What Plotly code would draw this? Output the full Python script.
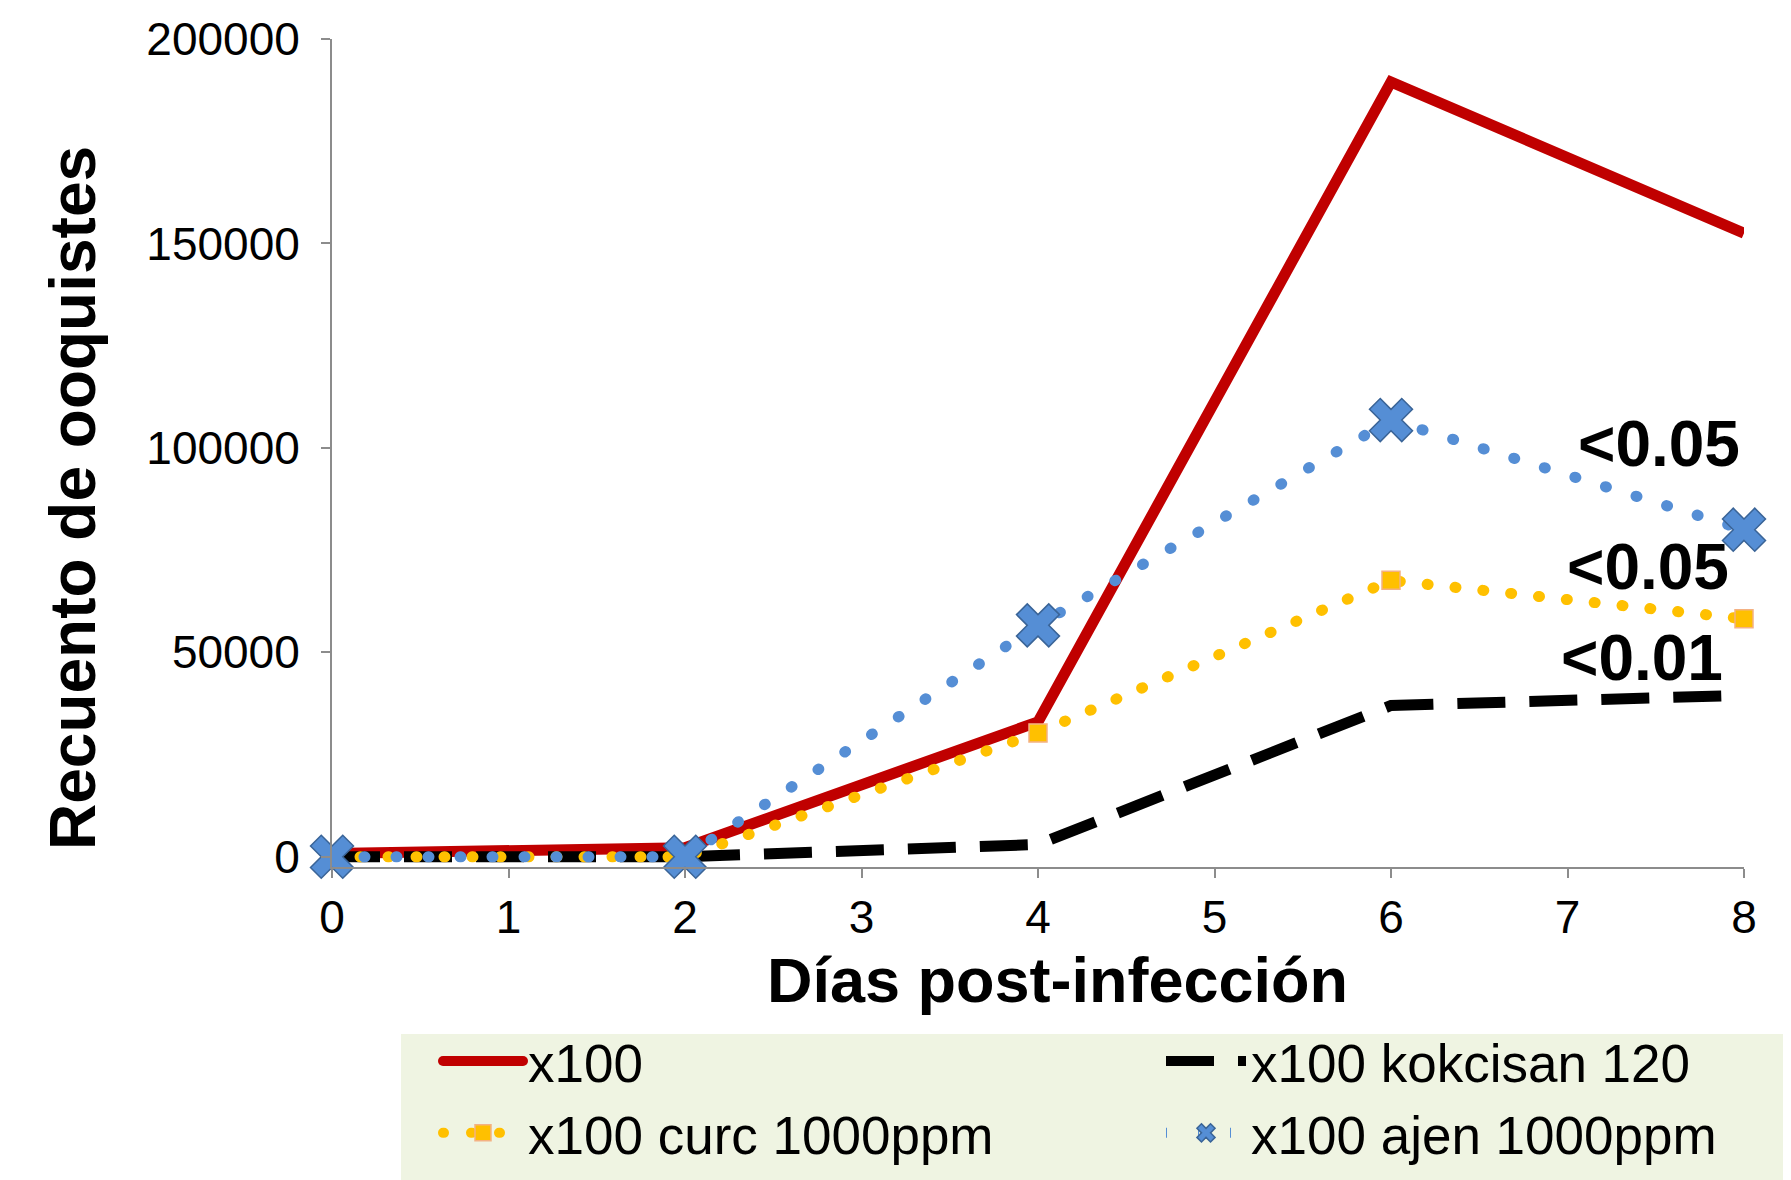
import plotly.graph_objects as go

# ---- data ----
days = [0, 2, 4, 6, 8]
x100 = [800, 2200, 33000, 189500, 152500]
x100_kokcisan = [0, 0, 3000, 37000, 39500]
x100_curc = [0, 0, 30300, 67600, 58200]
x100_ajen = [0, 0, 56600, 106800, 80000]

series_names = ["x100", "x100 kokcisan 120", "x100 curc 1000ppm", "x100 ajen 1000ppm"]
y_tickvals = [0, 50000, 100000, 150000, 200000]
y_ticktext = ["0", "50000", "100000", "150000", "200000"]
x_tickvals = [0, 1, 2, 3, 4, 5, 6, 7, 8]
p_labels = ["<0.05", "<0.05", "<0.01"]
x_title = "Días post-infección"
y_title = "Recuento de ooquistes"

FONT = "Liberation Sans"
W, H = 1791, 1180
L, R, T, B = 324, 55, 31, 321

fig = go.Figure()

fig.add_trace(go.Scatter(
    x=days, y=x100, name=series_names[0], mode="lines",
    line=dict(color="#C00000", width=11), legend="legend"))
fig.add_trace(go.Scatter(
    x=days, y=x100_kokcisan, name=series_names[1], mode="lines",
    line=dict(color="#000000", width=11, dash="48px,24px"), legend="legend2"))
fig.add_trace(go.Scatter(
    x=days, y=x100_curc, name=series_names[2], mode="lines+markers",
    line=dict(color="#FFC000", width=11, dash="1px,27px"),
    marker=dict(symbol="square", size=18, color="#FFC000",
                line=dict(color="#F4B183", width=1.5)),
    cliponaxis=False, legend="legend"))
fig.add_trace(go.Scatter(
    x=days, y=x100_ajen, name=series_names[3], mode="lines+markers",
    line=dict(color="#558ED5", width=11, dash="1px,31px"),
    marker=dict(symbol="x", size=38, color="#558ED5",
                line=dict(color="#3A6497", width=1.5)),
    cliponaxis=False, legend="legend2"))

pw = W - L - R
ph = H - T - B

def px(xp):
    return (xp - L) / pw

def py(yp):
    return (H - B - yp) / ph

# legend background panel
fig.add_shape(type="rect", xref="paper", yref="paper",
              x0=px(393), x1=px(W), y0=py(H), y1=py(1026),
              fillcolor="#EFF4E2", line=dict(width=0), layer="below")

# p-value annotations
for txt, (cx, cy) in zip(p_labels, [(1651, 436), (1640, 559), (1634, 650)]):
    fig.add_annotation(x=px(cx), y=py(cy), xref="paper", yref="paper",
                       xanchor="center", yanchor="middle",
                       text="<b>" + txt.replace("<", "&lt;") + "</b>", showarrow=False,
                       font=dict(family=FONT, size=64, color="#000000"))

# axis titles
fig.add_annotation(x=px(65), y=py(490), xref="paper", yref="paper",
                   xanchor="center", yanchor="middle",
                   text="<b>" + y_title + "</b>", textangle=-90, showarrow=False,
                   font=dict(family=FONT, size=64, color="#000000"))
fig.add_annotation(x=px(1049), y=py(972), xref="paper", yref="paper",
                   xanchor="center", yanchor="middle",
                   text="<b>" + x_title + "</b>", showarrow=False,
                   font=dict(family=FONT, size=63, color="#000000"))

axis_common = dict(showline=True, linecolor="#8C8C8C", linewidth=2,
                   ticks="outside", ticklen=9, tickwidth=2, tickcolor="#8C8C8C",
                   showgrid=False, zeroline=False,
                   tickfont=dict(family=FONT, size=46, color="#000000"))

fig.update_layout(
    width=W, height=H,
    margin=dict(l=L, r=R, t=T, b=B, autoexpand=False),
    paper_bgcolor="white", plot_bgcolor="white",
    font=dict(family=FONT, color="#000000"),
    xaxis=dict(range=[0, 8], tickvals=x_tickvals, ticklabelstandoff=0, **axis_common),
    yaxis=dict(range=[-2500, 200000], tickvals=y_tickvals, ticktext=y_ticktext,
               ticklabelstandoff=12, **axis_common),
    legend=dict(x=px(430), y=py(1012), xref="paper", yref="paper",
                xanchor="left", yanchor="top", orientation="v",
                bgcolor="rgba(0,0,0,0)", itemwidth=80,
                font=dict(family=FONT, size=53, color="#000000")),
    legend2=dict(x=px(1153), y=py(1012), xref="paper", yref="paper",
                 xanchor="left", yanchor="top", orientation="v",
                 bgcolor="rgba(0,0,0,0)", itemwidth=80,
                 font=dict(family=FONT, size=53, color="#000000")),
)

post = """
var s = document.createElement('style');
s.textContent = '.scatterlayer .trace:nth-child(3) .js-line, .scatterlayer .trace:nth-child(4) .js-line, .legend .js-line {stroke-linecap: round;}';
document.head.appendChild(s);
"""

fig.write_html("out.html", post_script=post)
